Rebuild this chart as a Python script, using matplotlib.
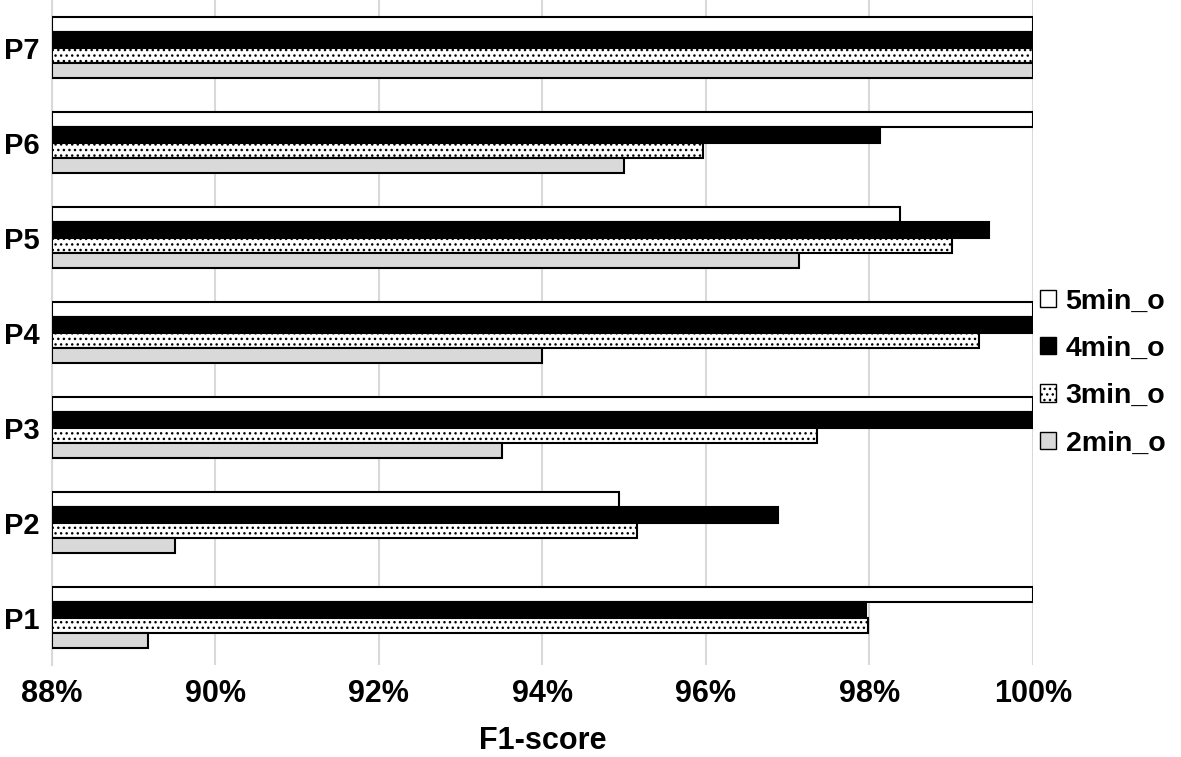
import numpy as np
import matplotlib
matplotlib.use("Agg")
import matplotlib.pyplot as plt
from matplotlib.ticker import FuncFormatter

# DATA (F1-score in %)
participants = ["P1", "P2", "P3", "P4", "P5", "P6", "P7"]
series_names = ["5min_o", "4min_o", "3min_o", "2min_o"]

f1_5min = [100.0, 94.94, 100.0, 100.0, 98.37, 100.0, 100.0]
f1_4min = [97.96, 96.88, 100.0, 100.0, 99.47, 98.13, 100.0]
f1_3min = [97.98, 95.16, 97.36, 99.34, 99.01, 95.96, 100.0]
f1_2min = [89.17, 89.50, 93.50, 93.99, 97.14, 95.00, 100.0]

x_ticks = [88, 90, 92, 94, 96, 98, 100]

plt.rcParams["font.family"] = ["Liberation Sans", "DejaVu Sans"]
plt.rcParams["hatch.linewidth"] = 1.0

fig = plt.figure(figsize=(11.81, 7.57), dpi=100)
ax = fig.add_axes([0.044, 0.1215, 0.8305, 0.8785])

# STYLE PER SERIES
styles = [
    dict(color="white", hatch=None),
    dict(color="black", hatch=None),
    dict(color="white", hatch="..."),
    dict(color="#d9d9d9", hatch=None),
]
values = [f1_5min, f1_4min, f1_3min, f1_2min]

y = np.arange(len(participants))
bar_h = 0.163
offsets = [1.5 * bar_h, 0.5 * bar_h, -0.5 * bar_h, -1.5 * bar_h]

base = 88
for vals, st, off, name in zip(values, styles, offsets, series_names):
    widths = [v - base for v in vals]
    ax.barh(y + off, widths, left=base, height=bar_h, color=st["color"],
            hatch=st["hatch"], edgecolor="black", linewidth=1.5,
            label=name, zorder=3)

ax.set_xlim(88, 100)
ax.set_ylim(-0.5, len(participants) - 0.5)
ax.set_xticks(x_ticks)
ax.xaxis.set_major_formatter(FuncFormatter(lambda v, p: f"{v:.0f}%"))
ax.set_yticks(y)
ax.set_yticklabels(participants)

ax.grid(axis="x", color="#d9d9d9", linewidth=1.5, zorder=0)
ax.set_axisbelow(True)
for s in ["top", "right", "bottom"]:
    ax.spines[s].set_visible(False)
ax.spines["left"].set_color("#d9d9d9")
ax.spines["left"].set_linewidth(1.5)

ax.tick_params(axis="x", length=0, pad=10, labelsize=22)
ax.tick_params(axis="y", length=0, pad=9, labelsize=21)
for lbl in ax.get_xticklabels() + ax.get_yticklabels():
    lbl.set_fontweight("bold")

ax.set_xlabel("F1-score", fontsize=22, fontweight="bold", labelpad=12)

leg = ax.legend(loc="center left", bbox_to_anchor=(1.0, 0.44), frameon=False,
                prop=dict(size=20.5, weight="bold"), handlelength=0.55,
                handleheight=0.55, handletextpad=0.35, labelspacing=0.75,
                borderaxespad=0.05, borderpad=0.2)
for h in leg.legend_handles:
    h.set_linewidth(1.0)

fig.savefig("out.png", dpi=100)
